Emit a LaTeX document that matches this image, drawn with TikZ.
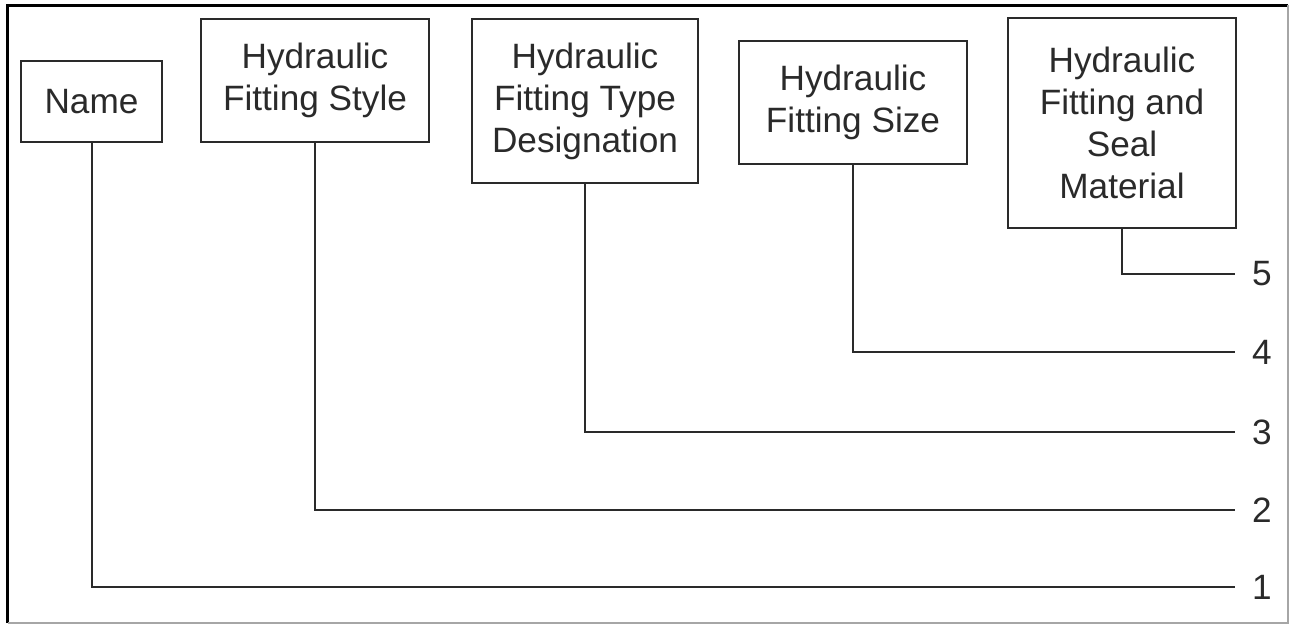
\documentclass[tikz,border=0pt]{standalone}
\usepackage{fontspec}
\setmainfont{Liberation Sans}
\definecolor{ink}{HTML}{2A2A2A}
\begin{document}
\begin{tikzpicture}[x=0.5pt,y=-0.5pt,
  fbox/.style={draw=ink, line width=1pt, inner sep=0pt, align=center, text=ink,
    font=\fontsize{17.6}{21}\selectfont},
  conn/.style={draw=ink, line width=1pt},
  numlbl/.style={inner sep=0pt, text=ink, font=\fontsize{17.6}{21}\selectfont}]
\useasboundingbox (0,0) rectangle (1290,625);
% outer frame
\draw[line width=1.5pt, black] (7.5,623) -- (7.5,5.5) -- (1288,5.5);
\draw[line width=0.6pt, black!35] (1288,5.5) -- (1288,623) -- (7.5,623);
% boxes
\node[fbox, minimum width=70.5pt, minimum height=40.5pt] (name) at (91.5,101.5) {Name};
\node[fbox, minimum width=114pt, minimum height=61.5pt] (style) at (315,80.5) {Hydraulic\\Fitting Style};
\node[fbox, minimum width=113pt, minimum height=82pt] (type) at (585,101) {Hydraulic\\Fitting Type\\Designation};
\node[fbox, minimum width=114pt, minimum height=61.5pt] (size) at (853,102.5) {Hydraulic\\Fitting Size};
\node[fbox, minimum width=114pt, minimum height=105pt] (seal) at (1122,123) {Hydraulic\\Fitting and\\Seal\\Material};
% line ends
\coordinate (e1) at (1235,587);
\coordinate (e2) at (1235,510);
\coordinate (e3) at (1235,432);
\coordinate (e4) at (1235,352);
\coordinate (e5) at (1235,274);
% labels
\node[numlbl] (n1) at (1262,587) {1};
\node[numlbl] (n2) at (1262,510) {2};
\node[numlbl] (n3) at (1262,432) {3};
\node[numlbl] (n4) at (1262,352) {4};
\node[numlbl] (n5) at (1262,274) {5};
% connectors
\draw[conn] (name.south) |- (e1);
\draw[conn] (style.south) |- (e2);
\draw[conn] (type.south) |- (e3);
\draw[conn] (size.south) |- (e4);
\draw[conn] (seal.south) |- (e5);
\end{tikzpicture}
\end{document}
